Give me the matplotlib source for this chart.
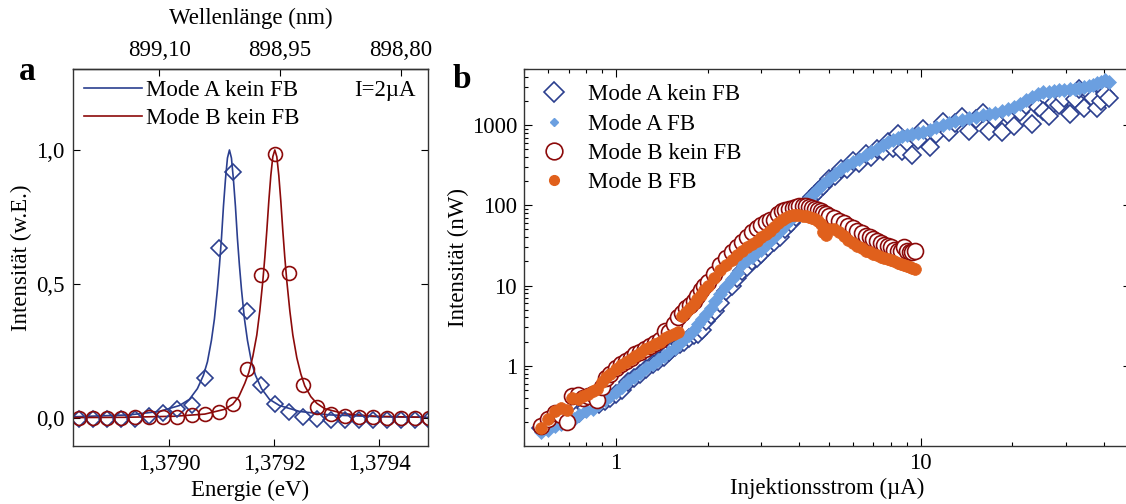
import matplotlib
matplotlib.use('Agg')
import matplotlib.pyplot as plt
from matplotlib.lines import Line2D
from matplotlib.ticker import FixedLocator, FuncFormatter, LogLocator, NullFormatter

plt.rcParams['font.family'] = ['Liberation Serif', 'DejaVu Serif']
plt.rcParams['font.size'] = 16.5
plt.rcParams['axes.linewidth'] = 1.0
plt.rcParams['axes.edgecolor'] = '#333333'

BLAU = '#2b3f8f'
HELLBLAU = '#6b9fe0'
ROT = '#8c0a0a'
ORANGE = '#e0601c'
HC = 1239.84198  # eV nm

# ---------- Teil a: Spektren bei I = 2 uA ----------
energie_pkt = [1.3788286, 1.3788552, 1.3788819, 1.3789086, 1.3789352, 1.3789619,
               1.3789886, 1.3790152, 1.3790432, 1.3790686, 1.3790958, 1.3791213,
               1.3791480, 1.3791752, 1.3792019, 1.3792292, 1.3792558, 1.3792819,
               1.3793086, 1.3793352, 1.3793619, 1.3793886, 1.3794152, 1.3794419,
               1.3794686, 1.3794952]
mode_a_pkt = [-0.005, -0.005, -0.005, -0.004, -0.002, 0.008, 0.02, 0.035, 0.05, 0.148,
              0.633, 0.919, 0.399, 0.125, 0.053, 0.022, 0.006, -0.005, -0.006, -0.006,
              -0.006, -0.006, -0.006, -0.006, -0.006, -0.006]
mode_b_pkt = [0.002, 0.002, 0.002, 0.002, 0.003, 0.003, 0.005, 0.006, 0.010, 0.015,
              0.024, 0.052, 0.182, 0.534, 0.984, 0.540, 0.123, 0.042, 0.017, 0.009,
              0.005, 0.003, 0.002, 0.002, 0.002, 0.002]

# Fitkurven
energie_fit_a = [1.3788178, 1.3789244, 1.3789816, 1.3790197, 1.3790387, 1.3790539,
                 1.3790654, 1.3790730, 1.3790806, 1.3790863, 1.3790920, 1.3790959,
                 1.3790997, 1.3791035, 1.3791073, 1.3791111, 1.3791149, 1.3791187,
                 1.3791225, 1.3791263, 1.3791301, 1.3791339, 1.3791378, 1.3791435,
                 1.3791492, 1.3791568, 1.3791644, 1.3791759, 1.3791911, 1.3792101,
                 1.3792482, 1.3793054, 1.3794006, 1.3794959]
fit_a = [0.005, 0.012, 0.025, 0.047, 0.07, 0.11, 0.16, 0.21, 0.29, 0.37, 0.48, 0.57,
         0.67, 0.79, 0.89, 0.97, 1.0, 0.97, 0.89, 0.79, 0.67, 0.57, 0.48, 0.37,
         0.29, 0.21, 0.16, 0.11, 0.07, 0.047, 0.025, 0.012, 0.005, 0.003]
energie_fit_b = [1.3788165, 1.3789156, 1.3790108, 1.3790680, 1.3791061, 1.3791213,
                 1.3791327, 1.3791442, 1.3791518, 1.3791594, 1.3791670, 1.3791727,
                 1.3791784, 1.3791823, 1.3791861, 1.3791899, 1.3791937, 1.3791975,
                 1.3792013, 1.3792051, 1.3792089, 1.3792127, 1.3792165, 1.3792203,
                 1.3792242, 1.3792299, 1.3792356, 1.3792432, 1.3792508, 1.3792584,
                 1.3792699, 1.3792813, 1.3792965, 1.3793346, 1.3793918, 1.3794870]
fit_b = [0.002, 0.003, 0.007, 0.015, 0.033, 0.052, 0.08, 0.13, 0.17, 0.23, 0.31, 0.40,
         0.51, 0.60, 0.70, 0.81, 0.905, 0.975, 1.0, 0.975, 0.905, 0.81, 0.70, 0.60,
         0.51, 0.40, 0.31, 0.225, 0.165, 0.12, 0.08, 0.055, 0.035, 0.016, 0.007, 0.003]

# ---------- Teil b: Intensitaet vs. Strom ----------
strom_a = [0.57, 0.6, 0.63, 0.66, 0.7, 0.73, 0.76, 0.8, 0.84, 0.88,
           0.92, 0.96, 1.0, 1.05, 1.1, 1.15, 1.2, 1.26, 1.32, 1.38,
           1.44, 1.5, 1.56, 1.62, 1.68, 1.74, 1.8, 1.86, 1.92, 1.98,
           2.05, 2.12, 2.2, 2.3, 2.4, 2.5, 2.6, 2.7, 2.8, 2.9,
           3.0, 3.15, 3.3, 3.45, 3.6, 3.75, 3.9, 4.05, 4.2, 4.4,
           4.6, 4.8, 5.0, 5.25, 5.5, 5.75, 6.0, 6.3, 6.6, 6.9,
           7.2, 7.5, 7.8, 8.1, 8.4, 8.7, 9.0, 9.4, 9.8, 10.2,
           10.7, 11.2, 11.8, 12.4, 13.0, 13.7, 14.4, 15.2, 16.0, 16.8,
           17.6, 18.5, 19.4, 20.3, 21.2, 22.2, 23.2, 24.2, 25.2, 26.3,
           27.4, 28.5, 29.6, 30.8, 32.0, 33.2, 34.4, 35.6, 36.8, 38.0,
           39.2, 40.4, 41.5]
mode_a_kein_fb = [0.17, 0.19, 0.2, 0.22, 0.24, 0.27, 0.26, 0.3, 0.33, 0.33,
                  0.36, 0.4, 0.44, 0.5, 0.62, 0.7, 0.78, 0.9, 1.05, 1.15,
                  1.3, 1.5, 1.7, 1.85, 2.0, 2.2, 2.4, 2.5, 2.8, 3.6,
                  4.3, 4.8, 6.0, 8.5, 10, 12.5, 15, 17, 20, 22,
                  25, 30, 35, 40, 50, 60, 72, 88, 105, 128,
                  150, 175, 215, 230, 285, 280, 360, 340, 430, 400,
                  500, 470, 620, 520, 780, 480, 620, 420, 650, 900,
                  530, 780, 1080, 820, 1050, 1250, 850, 1200, 1400, 850,
                  1200, 810, 1350, 980, 1450, 1800, 1030, 1700, 1500, 1300,
                  1900, 1800, 2200, 1370, 2100, 2800, 1650, 2600, 2150, 1650,
                  2000, 2420, 2200]
mode_a_fb = [0.15, 0.16, 0.18, 0.19, 0.21, 0.22, 0.24, 0.27, 0.29, 0.33,
             0.37, 0.42, 0.47, 0.55, 0.64, 0.72, 0.82, 0.95, 1.05, 1.18,
             1.32, 1.5, 1.68, 1.9, 2.15, 2.45, 2.8, 3.3, 3.8, 4.4,
             5.3, 6.5, 7.9, 9.8, 12, 14.5, 18.5, 21, 23, 26,
             28, 34, 40, 48, 57, 68, 80, 95, 112, 135,
             160, 185, 210, 245, 280, 315, 345, 380, 420, 465,
             510, 560, 610, 660, 700, 730, 750, 770, 790, 820,
             880, 940, 1000, 1060, 1110, 1170, 1220, 1270, 1320, 1370,
             1420, 1500, 1580, 1680, 1850, 2050, 2250, 2450, 2550, 2600,
             2650, 2700, 2750, 2800, 2850, 2900, 2950, 3050, 3150, 3300,
             3450, 3600, 3400]

strom_b = [0.57, 0.6, 0.63, 0.66, 0.69, 0.72, 0.75, 0.78, 0.81, 0.84,
           0.87, 0.9, 0.93, 0.96, 1.0, 1.04, 1.08, 1.12, 1.16, 1.2,
           1.25, 1.3, 1.35, 1.4, 1.45, 1.5, 1.55, 1.6, 1.65, 1.7,
           1.75, 1.8, 1.85, 1.9, 1.95, 2.0, 2.1, 2.2, 2.3, 2.4,
           2.5, 2.6, 2.7, 2.8, 2.9, 3.0, 3.1, 3.2, 3.3, 3.4,
           3.5, 3.6, 3.7, 3.8, 3.9, 4.0, 4.1, 4.2, 4.3, 4.4,
           4.5, 4.6, 4.7, 4.8, 4.9, 5.0, 5.2, 5.4, 5.6, 5.8,
           6.0, 6.2, 6.4, 6.6, 6.8, 7.0, 7.2, 7.4, 7.6, 7.8,
           8.0, 8.2, 8.4, 8.6, 8.8, 9.0, 9.2, 9.4, 9.6]
mode_b_kein_fb = [0.18, 0.22, 0.26, 0.24, 0.2, 0.42, 0.43, 0.4, 0.42, 0.45,
                  0.37, 0.55, 0.7, 0.8, 0.95, 1.05, 1.15, 1.25, 1.4, 1.5,
                  1.6, 1.75, 1.9, 2.1, 2.7, 2.6, 3.3, 4.0, 4.6, 5.3,
                  5.8, 6.5, 7.5, 8.8, 10, 11, 14, 18, 22, 26,
                  30, 35, 40, 47, 52, 57, 62, 65, 66, 78,
                  86, 88, 90, 93, 95, 97, 98, 97, 96, 93,
                  90, 88, 85, 80, 77, 74, 70, 64, 60, 55,
                  52, 48, 45, 42, 40, 38, 36, 34, 32, 31,
                  30, 28, 27, 27, 30, 27, 26, 26, 27]
mode_b_fb = [0.17, 0.22, 0.27, 0.3, 0.28, 0.4, 0.38, 0.42, 0.45, 0.48,
             0.52, 0.62, 0.72, 0.8, 0.92, 1.02, 1.12, 1.2, 1.32, 1.45,
             1.6, 1.7, 1.85, 2.0, 2.2, 2.35, 2.5, 2.6, 4.2, 4.7,
             5.2, 5.9, 6.8, 7.6, 8.8, 9.8, 12.5, 15.5, 18, 21,
             24, 27, 30, 33, 36, 40, 44, 48, 53, 60,
             66, 70, 73, 75, 75, 75, 74, 73, 71, 69,
             67, 64, 58, 46, 43, 50, 50, 46, 42, 37,
             34, 31, 29, 27, 26, 25, 24, 23, 22, 21.5,
             21, 20, 19, 18.5, 18, 17.5, 17, 16.5, 16.2]


def komma(fmt):
    return FuncFormatter(lambda v, p: fmt.format(v).replace('.', ','))


fig = plt.figure(figsize=(11.26, 5.04), dpi=100)

# ----- Teil a -----
ax1 = fig.add_axes([73 / 1126, 58 / 504, 355 / 1126, 377 / 504])
ax1.plot(energie_fit_a, fit_a, color=BLAU, lw=1.2, label='Mode A kein FB')
ax1.plot(energie_fit_b, fit_b, color=ROT, lw=1.2, label='Mode B kein FB')
ax1.plot(energie_pkt, mode_a_pkt, ls='none', marker='D', ms=7.8, mfc='none',
         mec=BLAU, mew=1.2)
ax1.plot(energie_pkt, mode_b_pkt, ls='none', marker='o', ms=10, mfc='none',
         mec=ROT, mew=1.2)
ax1.set_xlim(1.378817, 1.379493)
ax1.set_ylim(-0.104, 1.302)
ax1.xaxis.set_major_locator(FixedLocator([1.3790, 1.3792, 1.3794]))
ax1.xaxis.set_major_formatter(komma('{:.4f}'))
ax1.yaxis.set_major_locator(FixedLocator([0.0, 0.5, 1.0]))
ax1.yaxis.set_major_formatter(komma('{:.1f}'))
ax1.tick_params(direction='in', length=5, width=0.8, right=True, top=False, pad=6)
ax1.set_xlabel('Energie (eV)', labelpad=3)
ax1.set_ylabel('Intensität (w.E.)', labelpad=3)
ax1.legend(loc='upper left', frameon=False, handlelength=2.5, handletextpad=0.2,
           labelspacing=0.3, borderaxespad=0.3, borderpad=0.2)
ax1.text(0.965, 0.944, 'I=2µA', transform=ax1.transAxes, ha='right', va='center')

sec = ax1.secondary_xaxis('top', functions=(lambda e: HC / e, lambda l: HC / l))
sec.xaxis.set_major_locator(FixedLocator([899.10, 898.95, 898.80]))
sec.xaxis.set_major_formatter(komma('{:.2f}'))
sec.tick_params(direction='in', length=5, width=0.8, pad=6)
sec.set_xlabel('Wellenlänge (nm)', labelpad=11)

# ----- Teil b -----
ax2 = fig.add_axes([524 / 1126, 58 / 504, 607 / 1126, 377 / 504])
ax2.plot(strom_a, mode_a_kein_fb, ls='none', marker='D', ms=9.5, mfc='white',
         mec=BLAU, mew=1.2)
ax2.plot(strom_a, mode_a_fb, ls='none', marker='D', ms=6.8, mfc=HELLBLAU,
         mec=HELLBLAU, mew=0.5)
ax2.plot(strom_b, mode_b_kein_fb, ls='none', marker='o', ms=11.5, mfc='white',
         mec=ROT, mew=1.2)
ax2.plot(strom_b, mode_b_fb, ls='none', marker='o', ms=8.5, mfc=ORANGE,
         mec=ORANGE, mew=0.5)
ax2.set_xscale('log')
ax2.set_yscale('log')
ax2.set_xlim(0.5, 49)
ax2.set_ylim(0.1, 5000)
ax2.xaxis.set_major_locator(FixedLocator([1, 10]))
ax2.xaxis.set_major_formatter(FuncFormatter(lambda v, p: f'{v:g}'))
ax2.xaxis.set_minor_locator(LogLocator(subs=range(2, 10)))
ax2.xaxis.set_minor_formatter(NullFormatter())
ax2.yaxis.set_major_locator(FixedLocator([1, 10, 100, 1000]))
ax2.yaxis.set_major_formatter(FuncFormatter(lambda v, p: f'{v:g}'))
ax2.yaxis.set_minor_locator(LogLocator(subs=range(2, 10)))
ax2.yaxis.set_minor_formatter(NullFormatter())
ax2.tick_params(which='both', direction='in', width=0.8, top=True, right=True)
ax2.tick_params(which='major', length=6, pad=5)
ax2.tick_params(which='minor', length=3)
ax2.set_xlabel('Injektionsstrom (µA)', labelpad=3)
ax2.set_ylabel('Intensität (nW)', labelpad=2)

griffe = [
    Line2D([], [], ls='none', marker='D', ms=10, mfc='white', mec=BLAU, mew=1.2),
    Line2D([], [], ls='none', marker='D', ms=4.5, mfc=HELLBLAU, mec=HELLBLAU),
    Line2D([], [], ls='none', marker='o', ms=12, mfc='white', mec=ROT, mew=1.2),
    Line2D([], [], ls='none', marker='o', ms=7, mfc=ORANGE, mec=ORANGE),
]
namen = ['Mode A kein FB', 'Mode A FB', 'Mode B kein FB', 'Mode B FB']
ax2.legend(griffe, namen, loc='upper left', bbox_to_anchor=(0.0, 0.984),
           frameon=False, numpoints=1, handlelength=1.8, handletextpad=0.6,
           labelspacing=0.36, borderaxespad=0.2, borderpad=0.2)

fig.text(27 / 1126, 1 - 72 / 504, 'a', fontsize=24, fontweight='bold',
         ha='center', va='center')
fig.text(462 / 1126, 1 - 80 / 504, 'b', fontsize=24, fontweight='bold',
         ha='center', va='center')

fig.savefig('out.png', dpi=100)
